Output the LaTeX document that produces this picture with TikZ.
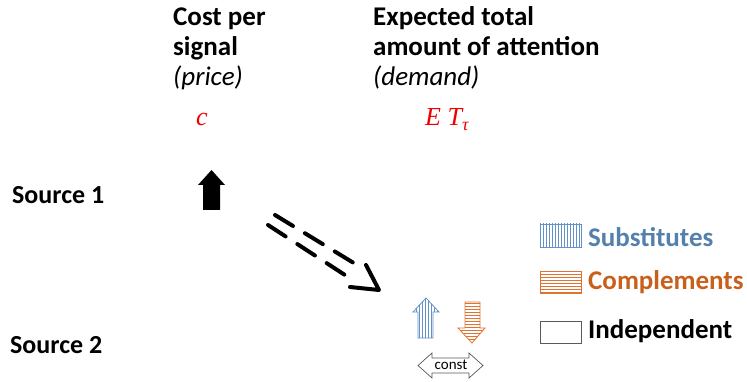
\documentclass[tikz,border=0pt]{standalone}
\usepackage{fontspec}
\setmainfont{Carlito}
\newfontfamily\mathlike{Liberation Serif}
\definecolor{subblue}{RGB}{84,128,172}
\definecolor{subline}{RGB}{100,145,200}
\definecolor{comporange}{RGB}{200,96,28}
\definecolor{compline}{RGB}{225,115,50}
\definecolor{mathred}{RGB}{240,0,0}
\tikzset{
  head/.style={font=\fontsize{27}{30}\selectfont\bfseries, anchor=base west, inner sep=0pt},
  sub/.style={font=\fontsize{27}{30}\selectfont\itshape, anchor=base west, inner sep=0pt},
  srcname/.style={font=\fontsize{26}{30}\selectfont\bfseries, anchor=base west, inner sep=0pt},
  mathtxt/.style={font=\fontsize{26}{30}\selectfont\mathlike, text=mathred, anchor=base west, inner sep=0pt},
  legend/.style={font=\fontsize{27}{30}\selectfont\bfseries, anchor=west, inner sep=0pt},
  legbox/.style={draw=gray!70!black, line width=0.8pt},
  dashline/.style={line width=4pt, line cap=round, dash pattern=on 21pt off 14pt},
}
\begin{document}
\begin{tikzpicture}[x=1pt,y=-1pt]
\useasboundingbox (0,0) rectangle (747,382);
% headers
\node[head] (c1) at (173,26) {Cost per};
\node[head] (c2) at (173,56) {signal};
\node[sub]  (c3) at (173,86) {(price)};
\node[mathtxt] (cm) at (196,126) {\itshape c};
\node[head] (e1) at (373,26) {Expected total};
\node[head] (e2) at (373,56) {amount of attention};
\node[sub]  (e3) at (373,86) {(demand)};
\node[mathtxt] (em) at (425,126) {\itshape E T\raisebox{-5pt}{\fontsize{18}{20}\selectfont τ}};
% sources
\node[srcname] (s1) at (12,204) {Source 1};
\node[srcname] (s2) at (10,353) {Source 2};
% black up arrow
\fill[black] (211.5,170) -- (225,185) -- (220,185) -- (220,210) -- (203,210) -- (203,185) -- (198,185) -- cycle;
% dashed double arrow
\coordinate (ua) at (275,215);
\coordinate (ub) at (357,265);
\coordinate (la) at (268,225);
\coordinate (lb) at (348,277);
\draw[dashline] (ua) -- (ub);
\draw[dashline] (la) -- (lb);
\coordinate (tip) at (379,290);
\draw[line width=4pt, line cap=round, line join=round] (366,265) -- (tip) -- (350,287);
% blue up arrow (substitutes)
\begin{scope}
\path[clip] (426,298) -- (439,312) -- (433,312) -- (433,338) -- (418,338) -- (418,312) -- (413,312) -- cycle;
\foreach \x in {413,416,...,440} \draw[subline, line width=0.9pt] (\x,296) -- (\x,340);
\end{scope}
\draw[subline, line width=0.8pt] (426,298) -- (439,312) -- (433,312) -- (433,338) -- (418,338) -- (418,312) -- (413,312) -- cycle;
% orange down arrow (complements)
\begin{scope}
\path[clip] (465,302) -- (480,302) -- (480,328) -- (485,328) -- (472,343) -- (458,328) -- (465,328) -- cycle;
\foreach \y in {303,306,...,344} \draw[compline, line width=0.9pt] (456,\y) -- (487,\y);
\end{scope}
\draw[compline, line width=0.8pt] (465,302) -- (480,302) -- (480,328) -- (485,328) -- (472,343) -- (458,328) -- (465,328) -- cycle;
% const double arrow
\draw[gray!70!black, line width=0.7pt, fill=white] (418,365.5) -- (432,353) -- (432,358) -- (469,358) -- (469,353) -- (483,365.5) -- (469,378) -- (469,373) -- (432,373) -- (432,378) -- cycle;
\node[font=\fontsize{15}{17}\selectfont, inner sep=0pt] (const) at (451,365) {const};
% legend
\begin{scope}
\path[clip] (540,224) rectangle (581,247);
\foreach \x in {540,543,...,582} \draw[subline, line width=0.8pt] (\x,223) -- (\x,248);
\end{scope}
\draw[subline, line width=0.8pt] (540,224) rectangle (581,247);
\node[legend, text=subblue] (lsub) at (588,237) {Substitutes};
\begin{scope}
\path[clip] (540,271) rectangle (581,293);
\foreach \y in {271,274,...,294} \draw[compline, line width=0.8pt] (539,\y) -- (582,\y);
\end{scope}
\draw[compline, line width=0.8pt] (540,271) rectangle (581,293);
\node[legend, text=comporange] (lcomp) at (588,282) {Complements};
\draw[legbox] (540,321) rectangle (581,343);
\node[legend, text=black] (lind) at (588,331) {Independent};
\end{tikzpicture}
\end{document}
